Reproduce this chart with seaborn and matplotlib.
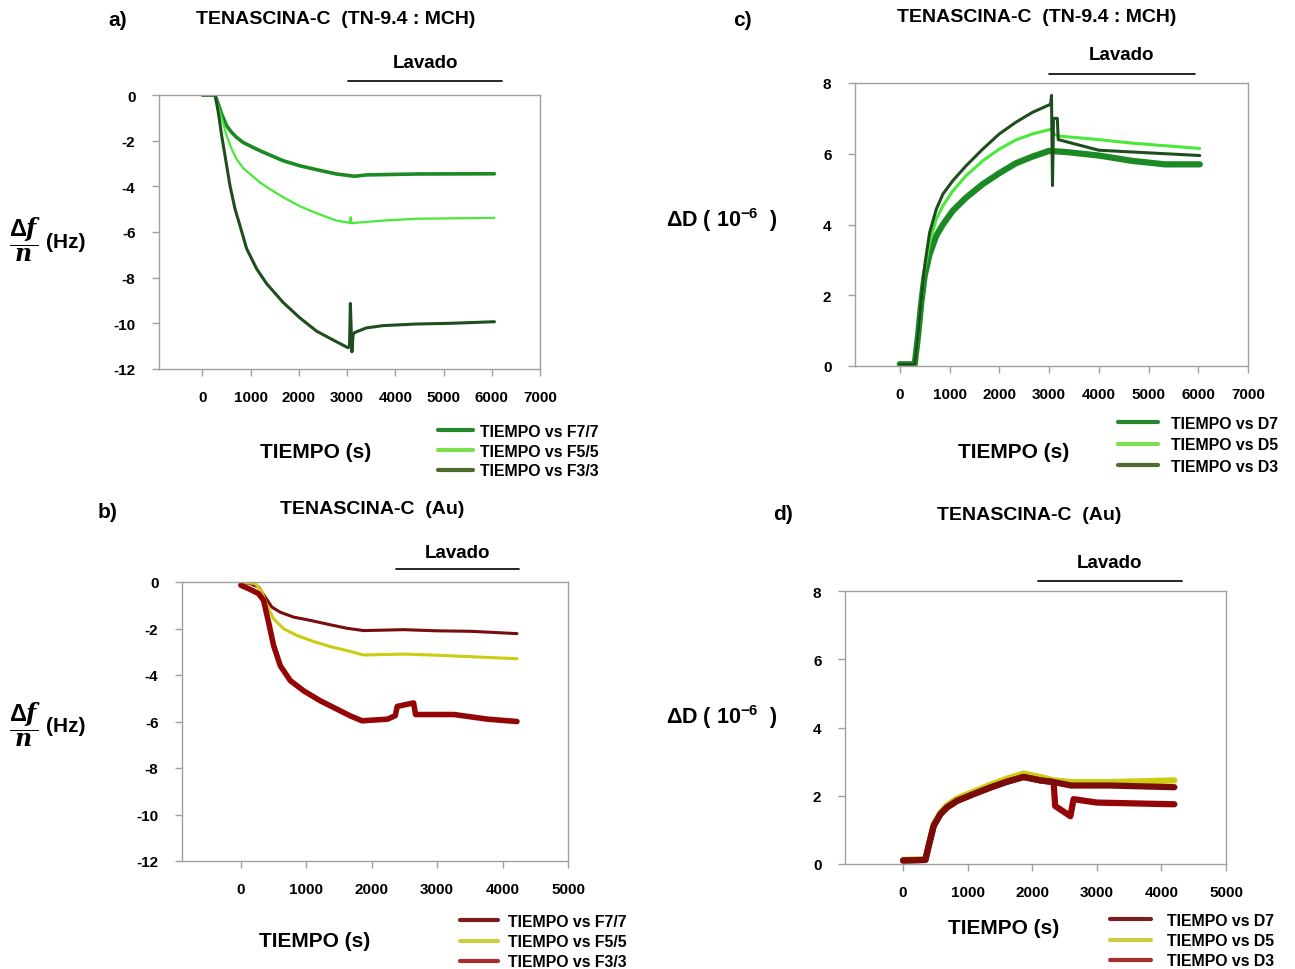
import matplotlib
matplotlib.use("Agg")
import matplotlib.pyplot as plt
from matplotlib.lines import Line2D
import seaborn as sns
import pandas as pd

# ---------------- data ----------------
# Panel a: TENASCINA-C (TN-9.4 : MCH), frequency shift
a_t_f7 = [0, 262, 331, 400, 503, 607, 710, 848, 986, 1193, 1400, 1676, 2020, 2366, 2780, 3160, 3400, 4434, 6055]
a_f7 = [0, 0, -0.41, -0.84, -1.35, -1.64, -1.86, -2.08, -2.23, -2.44, -2.63, -2.88, -3.1, -3.27, -3.46, -3.56, -3.5, -3.46, -3.45]
a_t_f5 = [0, 262, 300, 365, 434, 503, 607, 710, 848, 986, 1193, 1400, 1676, 2020, 2366, 2780, 3055, 3075, 3095, 3160, 3745, 4434, 6055]
a_f5 = [0, 0, -0.3, -0.77, -1.28, -1.79, -2.37, -2.81, -3.21, -3.46, -3.83, -4.12, -4.48, -4.87, -5.18, -5.5, -5.6, -5.35, -5.62, -5.6, -5.5, -5.42, -5.38]
a_t_f3 = [0, 262, 331, 400, 469, 572, 676, 779, 917, 1124, 1331, 1676, 2020, 2366, 2710, 3020, 3050, 3068, 3100, 3125, 3160, 3400, 3745, 4434, 5124, 6055]
a_f3 = [0, 0, -0.77, -1.79, -2.66, -3.97, -4.99, -5.72, -6.73, -7.61, -8.26, -9.09, -9.76, -10.34, -10.73, -11.07, -11.0, -9.13, -11.25, -10.5, -10.4, -10.2, -10.1, -10.03, -10.0, -9.93]

# Panel c: TENASCINA-C (TN-9.4 : MCH), dissipation
c_t_d7 = [0, 300, 367, 433, 500, 600, 733, 867, 1067, 1333, 1667, 2000, 2333, 2667, 3000, 3333, 4000, 4667, 5333, 6030]
c_d7 = [0.05, 0.05, 0.85, 1.8, 2.55, 3.16, 3.68, 4.0, 4.39, 4.76, 5.14, 5.45, 5.73, 5.92, 6.08, 6.05, 5.95, 5.8, 5.7, 5.7]
c_t_d5 = [0, 300, 367, 433, 500, 600, 733, 867, 1067, 1333, 1667, 2000, 2333, 2667, 3000, 3067, 3100, 3200, 4000, 4667, 6030]
c_d5 = [0.05, 0.05, 0.9, 1.9, 2.74, 3.49, 4.15, 4.53, 4.95, 5.38, 5.8, 6.13, 6.39, 6.56, 6.68, 6.7, 6.55, 6.5, 6.4, 6.3, 6.15]
c_t_d3 = [0, 300, 367, 433, 500, 600, 733, 867, 1067, 1333, 1667, 2000, 2333, 2667, 3000, 3033, 3050, 3070, 3090, 3167, 3185, 4000, 4667, 6030]
c_d3 = [0.05, 0.05, 0.9, 1.9, 2.83, 3.77, 4.43, 4.86, 5.24, 5.66, 6.13, 6.56, 6.89, 7.17, 7.38, 7.4, 7.65, 5.1, 7.0, 7.0, 6.4, 6.1, 6.05, 5.95]

# Panel b: TENASCINA-C (Au), frequency shift
b_t_f7 = [0, 143, 270, 372, 474, 602, 806, 1061, 1367, 1622, 1878, 2490, 3000, 3510, 4220]
b_f7 = [0, -0.07, -0.22, -0.65, -1.08, -1.3, -1.51, -1.65, -1.84, -1.99, -2.09, -2.05, -2.1, -2.12, -2.22]
b_t_f5 = [0, 219, 321, 398, 500, 653, 857, 1112, 1367, 1622, 1878, 2490, 3000, 4220]
b_f5 = [0, -0.07, -0.43, -1.0, -1.58, -2.01, -2.3, -2.56, -2.78, -2.95, -3.14, -3.1, -3.15, -3.3]
b_t_f3 = [0, 143, 270, 347, 423, 500, 602, 755, 959, 1214, 1469, 1673, 1852, 2240, 2360, 2390, 2640, 2670, 3260, 3770, 4220]
b_f3 = [-0.14, -0.32, -0.5, -0.79, -1.73, -2.73, -3.6, -4.24, -4.68, -5.11, -5.47, -5.76, -5.97, -5.9, -5.75, -5.35, -5.2, -5.7, -5.7, -5.9, -6.0]

# Panel d: TENASCINA-C (Au), dissipation
d_t_d7 = [0, 345, 397, 474, 577, 680, 835, 1093, 1351, 1608, 1866, 2124, 2330, 2600, 3200, 4200]
d_d7 = [0.1, 0.12, 0.54, 1.12, 1.46, 1.66, 1.85, 2.05, 2.24, 2.41, 2.55, 2.45, 2.4, 2.3, 2.3, 2.25]
d_t_d5 = [0, 345, 397, 474, 577, 680, 835, 1093, 1351, 1608, 1866, 2124, 2330, 2600, 3200, 4200]
d_d5 = [0.12, 0.14, 0.56, 1.16, 1.5, 1.72, 1.92, 2.12, 2.32, 2.5, 2.65, 2.55, 2.45, 2.4, 2.4, 2.45]
d_t_d3 = [0, 345, 397, 474, 577, 680, 835, 1093, 1351, 1608, 1866, 2124, 2330, 2355, 2590, 2640, 3000, 4200]
d_d3 = [0.1, 0.12, 0.54, 1.12, 1.46, 1.66, 1.85, 2.05, 2.24, 2.41, 2.55, 2.45, 2.4, 1.7, 1.4, 1.9, 1.8, 1.75]

labels_f = ["TIEMPO vs F7/7", "TIEMPO vs F5/5", "TIEMPO vs F3/3"]
labels_d = ["TIEMPO vs D7", "TIEMPO vs D5", "TIEMPO vs D3"]
title_top = "TENASCINA-C  (TN-9.4 : MCH)"
title_bot = "TENASCINA-C  (Au)"

# ---------------- style ----------------
sns.set_style("ticks")
plt.rcParams["font.family"] = ["Liberation Sans", "DejaVu Sans"]
plt.rcParams["font.weight"] = "bold"
plt.rcParams["text.color"] = "black"
plt.rcParams["axes.unicode_minus"] = False
plt.rcParams["mathtext.fontset"] = "custom"
plt.rcParams["mathtext.rm"] = "Liberation Sans:bold"
plt.rcParams["mathtext.bf"] = "Liberation Sans:bold"
plt.rcParams["mathtext.it"] = "DejaVu Serif:italic:bold"

W, H = 1295, 970
fig = plt.figure(figsize=(W / 100, H / 100), dpi=100)


def fx(px):
    return px / W


def fy(py):
    return 1 - py / H


def add_axes(l, r, t, b):
    return fig.add_axes([fx(l), fy(b), fx(r - l), (b - t) / H])


def draw(ax, series, xlim, ylim, xticks, yticks):
    for t, v, lab, col, lw in series:
        df = pd.DataFrame({"t": t, "v": v})
        sns.lineplot(data=df, x="t", y="v", ax=ax, color=col, lw=lw,
                     sort=False, estimator=None, legend=False)
    ax.set_xlim(*xlim)
    ax.set_ylim(*ylim)
    ax.set_xticks(xticks)
    ax.set_yticks(yticks)
    ax.set_xlabel("")
    ax.set_ylabel("")
    for s in ax.spines.values():
        s.set_color("#a0a0a0")
        s.set_linewidth(1.0)
    ax.tick_params(axis="both", colors="#a0a0a0", labelcolor="black",
                   labelsize=11, length=5, width=1, direction="out")
    ax.tick_params(axis="x", pad=10)
    ax.tick_params(axis="y", pad=12)


def lavado(x0, x1, yline, ytext):
    fig.add_artist(Line2D([fx(x0), fx(x1)], [fy(yline), fy(yline)],
                          color="black", lw=1.2, transform=fig.transFigure))
    fig.text(fx((x0 + x1) / 2), fy(ytext), "Lavado", ha="center", va="center",
             fontsize=13.5, fontweight="bold")


def legend(handles_cols, labels, x, ytop, hl, htp, ls):
    hs = [Line2D([0], [0], color=c, lw=3) for c in handles_cols]
    fig.legend(hs, labels, loc="upper left", bbox_to_anchor=(fx(x), fy(ytop)),
               frameon=False, handlelength=hl, handletextpad=htp,
               labelspacing=ls, borderpad=0, borderaxespad=0,
               prop={"weight": "bold", "size": 11.4})


def flabel(xc, yc):
    fig.text(fx(xc), fy(yc), r"$\dfrac{\Delta f}{n}$", fontsize=17, ha="center", va="center")
    fig.text(fx(xc + 21), fy(yc + 2), "(Hz)", fontsize=15, fontweight="bold", ha="left", va="center")


def dlabel(xc, yc):
    fig.text(fx(xc), fy(yc), r"ΔD ( 10$^{-6}$  )", fontsize=15.5, fontweight="bold",
             ha="center", va="center")


# colours
g_mid, g_light, g_dark = "#1c8a24", "#49e83a", "#1e4d1e"
leg_g = ["#22882a", "#7ddc50", "#4e6a2e"]
r_maroon, r_yellow, r_red = "#7a0c0c", "#cccc10", "#940606"
leg_r = ["#7a1f1f", "#cccc40", "#a82e2e"]

# ---------------- panel a ----------------
ax_a = add_axes(159, 540, 96, 370)
draw(ax_a, [(a_t_f7, a_f7, labels_f[0], g_mid, 2.6),
            (a_t_f5, a_f5, labels_f[1], g_light, 1.6),
            (a_t_f3, a_f3, labels_f[2], g_dark, 2.2)],
     (-900, 7000), (-12, 0), range(0, 7001, 1000), range(-12, 1, 2))
fig.text(fx(118), fy(20), "a)", fontsize=15, fontweight="bold", ha="center", va="center")
fig.text(fx(336), fy(20), title_top, fontsize=14, fontweight="bold", ha="center", va="center")
lavado(348, 502, 82, 63)
fig.text(fx(316), fy(452), "TIEMPO (s)", fontsize=15, fontweight="bold", ha="center", va="center")
flabel(25, 240)
legend(leg_g, labels_f, 438, 425, 2.2, 0.45, 0.3)

# ---------------- panel c ----------------
ax_c = add_axes(855, 1248, 84, 367)
draw(ax_c, [(c_t_d7, c_d7, labels_d[0], g_mid, 4.5),
            (c_t_d5, c_d5, labels_d[1], g_light, 2.2),
            (c_t_d3, c_d3, labels_d[2], g_dark, 2.2)],
     (-900, 7000), (0, 8), range(0, 7001, 1000), range(0, 9, 2))
fig.text(fx(742), fy(20), "c)", fontsize=15, fontweight="bold", ha="center", va="center")
fig.text(fx(1037), fy(18), title_top, fontsize=14, fontweight="bold", ha="center", va="center")
lavado(1049, 1195, 75, 55)
fig.text(fx(1014), fy(452), "TIEMPO (s)", fontsize=15, fontweight="bold", ha="center", va="center")
dlabel(722, 220)
legend(leg_g, labels_d, 1118, 417, 2.55, 0.8, 0.4)

# ---------------- panel b ----------------
ax_b = add_axes(182, 568, 583, 862)
draw(ax_b, [(b_t_f7, b_f7, labels_f[0], r_maroon, 2.2),
            (b_t_f5, b_f5, labels_f[1], r_yellow, 2.2),
            (b_t_f3, b_f3, labels_f[2], r_red, 4.0)],
     (-900, 5000), (-12, 0), range(0, 5001, 1000), range(-12, 1, 2))
fig.text(fx(108), fy(513), "b)", fontsize=15, fontweight="bold", ha="center", va="center")
fig.text(fx(372), fy(510), title_bot, fontsize=14, fontweight="bold", ha="center", va="center")
lavado(396, 519, 570, 554)
fig.text(fx(315), fy(942), "TIEMPO (s)", fontsize=15, fontweight="bold", ha="center", va="center")
flabel(25, 725)
legend(leg_r, labels_f, 460, 915, 2.4, 0.6, 0.32)

# ---------------- panel d ----------------
ax_d = add_axes(845, 1226, 592, 865)
draw(ax_d, [(d_t_d5, d_d5, labels_d[1], r_yellow, 4.5),
            (d_t_d3, d_d3, labels_d[2], r_red, 4.5),
            (d_t_d7, d_d7, labels_d[0], r_maroon, 4.5)],
     (-900, 5000), (0, 8), range(0, 5001, 1000), range(0, 9, 2))
fig.text(fx(783), fy(515), "d)", fontsize=15, fontweight="bold", ha="center", va="center")
fig.text(fx(1029), fy(515), title_bot, fontsize=14, fontweight="bold", ha="center", va="center")
lavado(1038, 1182, 582, 564)
fig.text(fx(1004), fy(929), "TIEMPO (s)", fontsize=15, fontweight="bold", ha="center", va="center")
dlabel(722, 717)
legend(leg_r, labels_d, 1110, 914, 2.6, 1.0, 0.32)

fig.savefig("out.png", dpi=100)
